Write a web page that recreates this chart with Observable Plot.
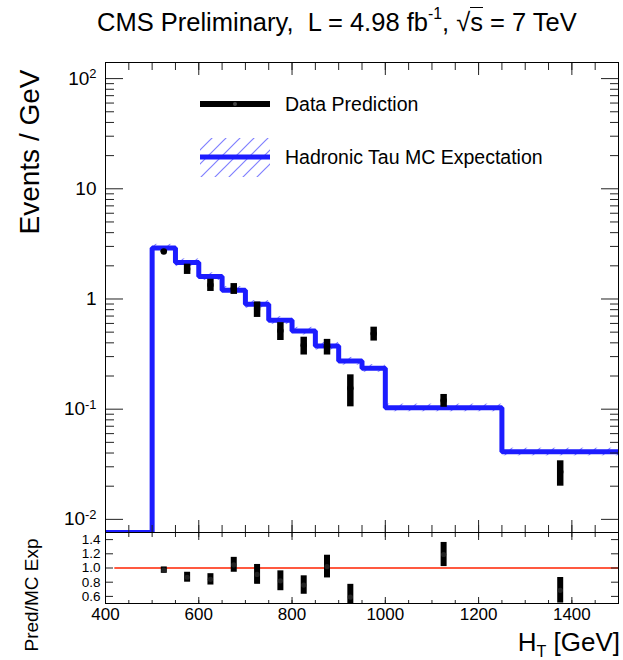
<!DOCTYPE html>
<html>
<head>
<meta charset="utf-8">
<script src="https://cdn.jsdelivr.net/npm/d3@7"></script>
<script src="https://cdn.jsdelivr.net/npm/@observablehq/plot@0.6"></script>
<style>
  body { margin: 0; background: #fff; font-family: "Liberation Sans", Arial, Helvetica, sans-serif; color: #000; }
  #chart { position: relative; width: 623px; height: 660px; overflow: hidden; background: #fff; }
  .title { position: absolute; left: 97px; top: 8px; font-size: 25.5px; line-height: 1; white-space: nowrap; }
  .title sup { font-size: 0.62em; position: relative; top: -0.15em; }
  .root { border-top: 1.5px solid #000; }
  .ylab { position: absolute; white-space: nowrap; line-height: 1; transform: translate(-50%, -50%) rotate(-90deg); }
  .xlab { position: absolute; right: 3px; top: 629px; font-size: 26px; line-height: 1; white-space: nowrap; }
  .xlab sub { font-size: 0.62em; vertical-align: sub; }
</style>
</head>
<body>
<div id="chart">
  <svg width="0" height="0" style="position:absolute">
    <defs>
      <pattern id="mcHatch" patternUnits="userSpaceOnUse" width="14" height="14">
        <path d="M0,14 L14,0 M-7,7 L7,-7 M7,21 L21,7" stroke="#8080ff" stroke-width="1.2" fill="none"/>
      </pattern>
    </defs>
  </svg>
  <div class="title">CMS Preliminary,&nbsp; L = 4.98 fb<sup>-1</sup>, √<span class="root">s</span> = 7 TeV</div>
  <div class="ylab" style="left:30px; top:152px; font-size:28px;">Events / GeV</div>
  <div class="ylab" style="left:31px; top:595px; font-size:19px;">Pred/MC Exp</div>
  <div class="xlab">H<sub>T</sub> [GeV]</div>
</div>
<script>
// H_T binning (GeV)
const binEdges = [400, 500, 550, 600, 650, 700, 750, 800, 850, 900, 950, 1000, 1250, 1500];
// Hadronic tau MC expectation per bin (events / GeV); first bin is empty
const mcExpectation = [0, 2.9, 2.14, 1.6, 1.2, 0.895, 0.64, 0.512, 0.374, 0.273, 0.235, 0.103, 0.041];
const mcRelUncertainty = 0.08;

// Data-driven prediction at bin centres
const dataHT = [525, 575, 625, 675, 725, 775, 825, 875, 925, 975, 1125, 1375];
const dataValue = [2.7, 1.87, 1.34, 1.24, 0.81, 0.515, 0.38, 0.37, 0.155, 0.485, 0.12, 0.027];
const dataError = [0.06, 0.2, 0.17, 0.14, 0.13, 0.095, 0.07, 0.06, 0.05, 0.07, 0.016, 0.007];

// Prediction / MC expectation
const ratioValue = [0.97, 0.87, 0.84, 1.045, 0.91, 0.82, 0.76, 1.02, 0.59, 2.06, 1.19, 0.686];
const ratioError = [0.045, 0.07, 0.08, 0.105, 0.14, 0.14, 0.13, 0.16, 0.18, 0.3, 0.17, 0.18];
const unityRange = [420, 1500];

// Axes
const xDomain = [400, 1500];
const xMajor = [400, 600, 800, 1000, 1200, 1400];
const xMinor = d3.range(400, 1501, 50);
const xTickLabels = ["400", "600", "800", "1000", "1200", "1400"];
const yDomain = [0.0076, 140];
const yMajor = [0.01, 0.1, 1, 10, 100];
const yTickLabels = ["10^-2", "10^-1", "1", "10", "10^2"];
const yMinor = yMajor.slice(0, -1).flatMap(d => d3.range(2, 10).map(k => k * d)).filter(v => v <= yDomain[1]);
const ratioDomain = [0.5, 1.5];
const ratioTicks = [0.6, 0.8, 1.0, 1.2, 1.4];
const ratioTickLabels = ["0.6", "0.8", "1.0", "1.2", "1.4"];

const font = "Liberation Sans, Arial, Helvetica, sans-serif";
const W = 623, ML = 105, MR = 5;
const blue = "#1c1cff";

const yLabelOf = new Map(yMajor.map((v, i) => [v, yTickLabels[i]]));
const xLabelOf = new Map(xMajor.map((v, i) => [v, xTickLabels[i]]));
const rLabelOf = new Map(ratioTicks.map((v, i) => [v, ratioTickLabels[i]]));

const mcSteps = binEdges.map((e, i) => ({
  x: e,
  y: Math.max(mcExpectation[Math.min(i, mcExpectation.length - 1)], yDomain[0])
}));
const mcBand = mcExpectation.map((v, i) => ({x1: binEdges[i], x2: binEdges[i + 1], lo: v * (1 - mcRelUncertainty), hi: v * (1 + mcRelUncertainty)})).filter(d => d.lo > 0);
const dataRows = dataHT.map((h, i) => ({ht: h, v: dataValue[i], lo: dataValue[i] - dataError[i], hi: dataValue[i] + dataError[i]}));
const ratioRows = dataHT.map((h, i) => ({ht: h, v: ratioValue[i], lo: ratioValue[i] - ratioError[i], hi: ratioValue[i] + ratioError[i]}));

const tickOnly = {fill: "none", label: null, stroke: "#222"};

const main = Plot.plot({
  width: W, height: 482,
  marginTop: 12, marginBottom: 0, marginLeft: ML, marginRight: MR,
  style: {fontFamily: font, color: "#000", background: "transparent", overflow: "visible"},
  x: {domain: xDomain, label: null},
  y: {type: "log", domain: yDomain, label: null},
  marks: [
    Plot.rect(mcBand, {x1: "x1", x2: "x2", y1: "lo", y2: "hi", fill: "url(#mcHatch)"}),
    Plot.line(mcSteps, {x: "x", y: "y", curve: "step-after", stroke: blue, strokeWidth: 5, strokeLinejoin: "miter", strokeLinecap: "butt", clip: true}),
    Plot.ruleX(dataRows, {x: "ht", y1: "lo", y2: "hi", stroke: "#000", strokeWidth: 6.5}),
    Plot.dot(dataRows, {x: "ht", y: "v", r: 3.2, fill: "#000"}),
    Plot.axisY(yMajor, {anchor: "left", tickSize: -18, ...tickOnly}),
    Plot.axisY(yMinor, {anchor: "left", tickSize: -9, ...tickOnly}),
    Plot.axisY(yMajor, {anchor: "right", tickSize: -18, ...tickOnly}),
    Plot.axisY(yMinor, {anchor: "right", tickSize: -9, ...tickOnly}),
    Plot.axisX(xMajor, {anchor: "top", tickSize: -12, ...tickOnly}),
    Plot.axisX(xMinor, {anchor: "top", tickSize: -7, ...tickOnly}),
    Plot.axisX(xMajor, {anchor: "bottom", tickSize: -12, ...tickOnly}),
    Plot.axisX(xMinor, {anchor: "bottom", tickSize: -7, ...tickOnly}),
    Plot.axisY(yMajor, {anchor: "left", tickSize: 0, tickPadding: 9, tickFormat: d => yLabelOf.get(d), fontSize: 19, label: null}),
    Plot.frame({stroke: "#000", strokeWidth: 1})
  ]
});

const ratio = Plot.plot({
  width: W, height: 128,
  marginTop: 0, marginBottom: 57, marginLeft: ML, marginRight: MR,
  style: {fontFamily: font, color: "#000", background: "transparent", overflow: "visible"},
  x: {domain: xDomain, label: null},
  y: {domain: ratioDomain, label: null},
  marks: [
    Plot.ruleY([1], {x1: unityRange[0], x2: unityRange[1], stroke: "#ff2200", strokeWidth: 1.3}),
    Plot.ruleX(ratioRows, {x: "ht", y1: "lo", y2: "hi", stroke: "#000", strokeWidth: 6, clip: true}),
    Plot.dot(ratioRows, {x: "ht", y: "v", r: 2.6, fill: "#222", clip: true}),
    Plot.axisY(ratioTicks, {anchor: "left", tickSize: -8, ...tickOnly}),
    Plot.axisY(ratioTicks, {anchor: "right", tickSize: -8, ...tickOnly}),
    Plot.axisX(xMajor, {anchor: "top", tickSize: -7, ...tickOnly}),
    Plot.axisX(xMinor, {anchor: "top", tickSize: -4, ...tickOnly}),
    Plot.axisX(xMajor, {anchor: "bottom", tickSize: -6, ...tickOnly}),
    Plot.axisX(xMinor, {anchor: "bottom", tickSize: -3, ...tickOnly}),
    Plot.axisY(ratioTicks, {anchor: "left", tickSize: 0, tickPadding: 5, tickFormat: d => rLabelOf.get(d), fontSize: 13.5, label: null}),
    Plot.axisX(xMajor, {anchor: "bottom", tickSize: 0, tickPadding: 4, tickFormat: d => xLabelOf.get(d), fontSize: 17, label: null}),
    Plot.frame({stroke: "#000", strokeWidth: 1})
  ]
});

// Turn "10^n" tick labels into a base with a raised exponent
function superscriptTicks(svg) {
  d3.select(svg).selectAll("text").each(function () {
    const m = /^(\d+)\^(-?\d+)$/.exec(this.textContent);
    if (!m) return;
    const t = d3.select(this);
    t.text(m[1]);
    t.append("tspan").attr("dy", "-0.5em").attr("font-size", "0.68em").text(m[2]);
  });
}
superscriptTicks(main);

const chart = document.getElementById("chart");
main.style.position = "absolute"; main.style.top = "50px"; main.style.left = "0px";
ratio.style.position = "absolute"; ratio.style.top = "532px"; ratio.style.left = "0px";
chart.appendChild(main);
chart.appendChild(ratio);

// Legend
const legend = d3.select(chart).append("svg")
  .attr("width", W).attr("height", 200)
  .style("position", "absolute").style("left", "0px").style("top", "0px")
  .attr("font-family", font);
legend.append("line").attr("x1", 200).attr("x2", 270).attr("y1", 104).attr("y2", 104)
  .attr("stroke", "#000").attr("stroke-width", 6);
legend.append("circle").attr("cx", 235).attr("cy", 104).attr("r", 2).attr("fill", "#444");
legend.append("text").attr("x", 285).attr("y", 104).attr("dy", "0.35em").attr("font-size", 19.5).text("Data Prediction");
legend.append("rect").attr("x", 200).attr("y", 138).attr("width", 70).attr("height", 39).attr("fill", "url(#mcHatch)");
legend.append("line").attr("x1", 200).attr("x2", 270).attr("y1", 157).attr("y2", 157)
  .attr("stroke", blue).attr("stroke-width", 5);
legend.append("text").attr("x", 285).attr("y", 157).attr("dy", "0.35em").attr("font-size", 19.5).text("Hadronic Tau MC Expectation");
</script>
</body>
</html>
